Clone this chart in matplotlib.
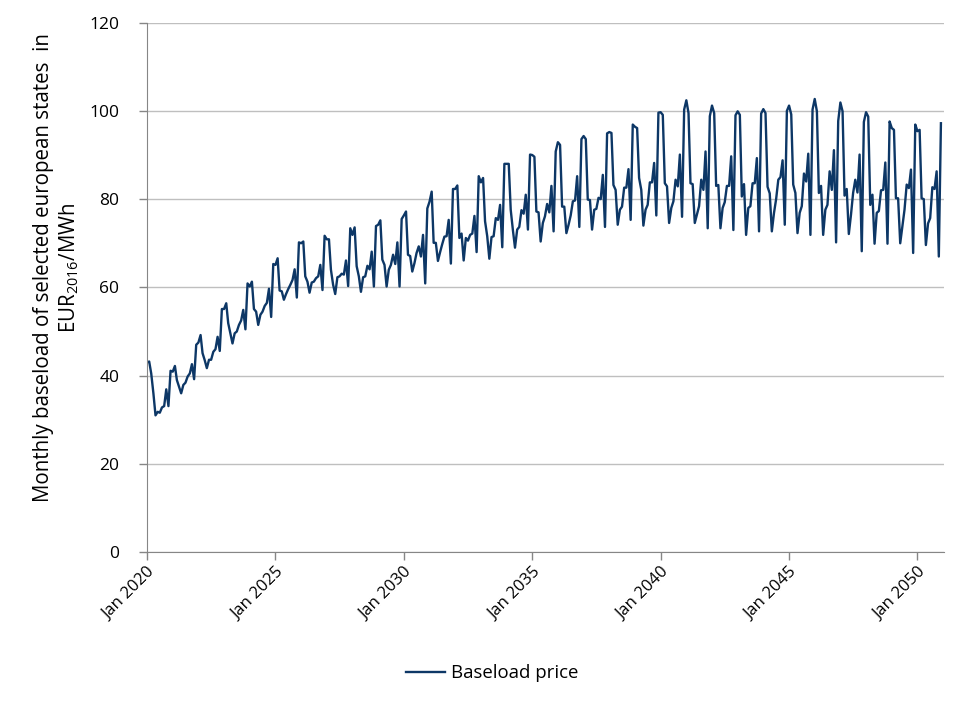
import numpy as np
import pandas as pd
import matplotlib
matplotlib.use('Agg')
import matplotlib.pyplot as plt

plt.rcParams['font.family'] = ['Open Sans', 'DejaVu Sans']
plt.rcParams['mathtext.fontset'] = 'custom'
plt.rcParams['mathtext.rm'] = 'Open Sans'
plt.rcParams['mathtext.it'] = 'Open Sans:italic'

# monthly baseload price, EUR2016/MWh, Jan..Dec of each year
y2020 = [43.0, 43.2, 40.5, 36.0, 31.0, 31.8, 31.6, 32.8, 33.1, 36.9, 33.1, 41.1]
y2021 = [40.9, 42.2, 39.0, 37.5, 36.0, 37.9, 38.4, 39.8, 40.5, 42.6, 39.2, 47.0]
y2022 = [47.5, 49.2, 45.1, 43.5, 41.7, 43.6, 43.6, 45.4, 46.0, 48.8, 45.6, 55.1]
y2023 = [55.1, 56.4, 51.9, 49.5, 47.3, 49.6, 50.0, 51.5, 52.5, 54.9, 50.5, 60.9]
y2024 = [60.2, 61.3, 55.1, 54.5, 51.5, 53.8, 54.5, 55.8, 56.5, 59.7, 53.3, 65.3]
y2025 = [65.1, 66.6, 59.3, 59.1, 57.2, 58.5, 59.6, 60.6, 61.7, 64.1, 57.7, 70.2]
y2026 = [70.0, 70.4, 62.5, 61.3, 58.8, 61.1, 61.3, 62.1, 62.5, 65.1, 59.4, 71.7]
y2027 = [70.9, 70.9, 64.0, 60.6, 58.5, 62.3, 62.5, 63.1, 62.9, 66.1, 60.3, 73.4]
y2028 = [71.9, 73.6, 64.8, 62.5, 59.0, 62.3, 62.5, 64.9, 64.1, 68.1, 60.2, 73.9]
y2029 = [74.2, 75.2, 66.3, 65.1, 60.2, 64.0, 65.1, 67.4, 65.3, 70.2, 60.2, 75.5]
y2030 = [76.3, 77.2, 67.4, 67.1, 63.6, 65.5, 67.8, 69.3, 67.0, 71.9, 60.9, 77.9]
y2031 = [79.4, 81.7, 70.1, 70.1, 66.0, 68.0, 69.8, 71.5, 71.6, 75.3, 65.4, 82.3]
y2032 = [82.3, 83.1, 71.2, 72.2, 66.1, 71.2, 70.6, 71.9, 72.2, 76.2, 68.0, 85.2]
y2033 = [83.8, 84.8, 75.0, 71.6, 66.5, 71.4, 71.6, 75.7, 75.3, 78.7, 69.1, 88.0]
y2034 = [88.0, 88.0, 77.6, 73.0, 69.0, 73.1, 73.7, 77.5, 76.7, 81.0, 73.1, 90.1]
y2035 = [90.0, 89.6, 77.2, 77.0, 70.4, 74.6, 76.1, 78.9, 77.0, 83.0, 72.7, 90.8]
y2036 = [92.9, 92.3, 78.3, 78.3, 72.3, 74.2, 76.3, 79.5, 79.7, 85.2, 73.7, 93.6]
y2037 = [94.3, 93.6, 79.9, 79.8, 73.1, 77.6, 77.8, 80.3, 80.0, 85.5, 73.7, 94.9]
y2038 = [95.2, 95.0, 83.2, 82.1, 74.2, 77.6, 78.3, 82.6, 82.6, 86.8, 75.3, 96.9]
y2039 = [96.4, 96.1, 84.8, 82.1, 74.0, 77.6, 78.7, 83.8, 83.8, 88.2, 76.3, 99.6]
y2040 = [99.7, 99.1, 83.6, 82.9, 74.6, 78.0, 79.5, 84.4, 82.9, 90.1, 76.0, 100.3]
y2041 = [102.4, 99.5, 83.6, 83.4, 74.6, 76.5, 78.4, 84.4, 82.1, 90.8, 73.4, 98.8]
y2042 = [101.2, 99.5, 83.0, 83.2, 73.4, 78.0, 79.3, 83.0, 83.0, 89.7, 73.0, 99.0]
y2043 = [99.9, 99.1, 80.6, 83.4, 71.9, 78.0, 78.4, 83.6, 83.6, 89.3, 72.7, 99.4]
y2044 = [100.4, 99.5, 82.8, 81.3, 72.7, 76.9, 80.0, 84.4, 85.0, 88.8, 74.2, 100.0]
y2045 = [101.2, 99.2, 83.3, 81.4, 72.3, 76.9, 78.4, 85.8, 84.0, 90.3, 71.9, 100.3]
y2046 = [102.7, 99.9, 81.4, 83.0, 71.9, 77.6, 78.7, 86.3, 82.1, 91.1, 70.2, 97.7]
y2047 = [101.9, 99.9, 80.8, 82.3, 72.1, 76.5, 81.4, 84.4, 81.5, 90.1, 68.2, 97.5]
y2048 = [99.7, 98.7, 78.7, 81.0, 69.9, 76.9, 77.3, 82.0, 82.1, 88.3, 69.9, 97.6]
y2049 = [96.1, 95.7, 80.2, 80.2, 70.0, 73.8, 77.6, 83.3, 82.5, 86.7, 67.8, 96.9]
y2050 = [95.4, 95.7, 80.2, 80.0, 69.6, 74.5, 75.7, 82.7, 82.3, 86.3, 67.0, 97.2]

years = [y2020, y2021, y2022, y2023, y2024, y2025, y2026, y2027, y2028, y2029,
         y2030, y2031, y2032, y2033, y2034, y2035, y2036, y2037, y2038, y2039,
         y2040, y2041, y2042, y2043, y2044, y2045, y2046, y2047, y2048, y2049,
         y2050]
price = np.concatenate(years)
dates = pd.date_range('2020-01-01', periods=len(price), freq='MS')

tick_years = [2020, 2025, 2030, 2035, 2040, 2045, 2050]

fig = plt.figure(figsize=(9.8, 7.07), dpi=100)
ax = fig.add_axes([0.15, 0.219, 0.813, 0.749])

ax.plot(dates, price, color='#0d3766', lw=1.7, label='Baseload price')

ax.set_ylim(0, 120)
ax.set_yticks(np.arange(0, 121, 20))
ax.set_xlim(pd.Timestamp('2020-01-01'), pd.Timestamp('2051-01-10'))
ax.set_xticks([pd.Timestamp(f'{y}-01-01') for y in tick_years])
ax.set_xticklabels([f'Jan {y}' for y in tick_years], rotation=45, ha='right',
                   rotation_mode='anchor')

ax.grid(axis='y', color='#bfbfbf', lw=1)
ax.set_axisbelow(True)
for s in ['top', 'right']:
    ax.spines[s].set_visible(False)
for s in ['left', 'bottom']:
    ax.spines[s].set_color('#868686')
ax.tick_params(axis='both', colors='#868686', labelcolor='black', labelsize=12.5,
               length=6, width=1)
ax.tick_params(axis='y', pad=14)
ax.tick_params(axis='x', pad=3, labelsize=12)

ax.set_ylabel('Monthly baseload of selected european states  in\nEUR$_{2016}$/MWh',
              fontsize=14.8, linespacing=1.2)
ax.yaxis.set_label_coords(-0.083, 0.537)

fig.legend(loc='center', bbox_to_anchor=(0.502, 0.048), frameon=False, fontsize=13.4,
           handlelength=2.1, handletextpad=0.3)

plt.savefig('out.png')
